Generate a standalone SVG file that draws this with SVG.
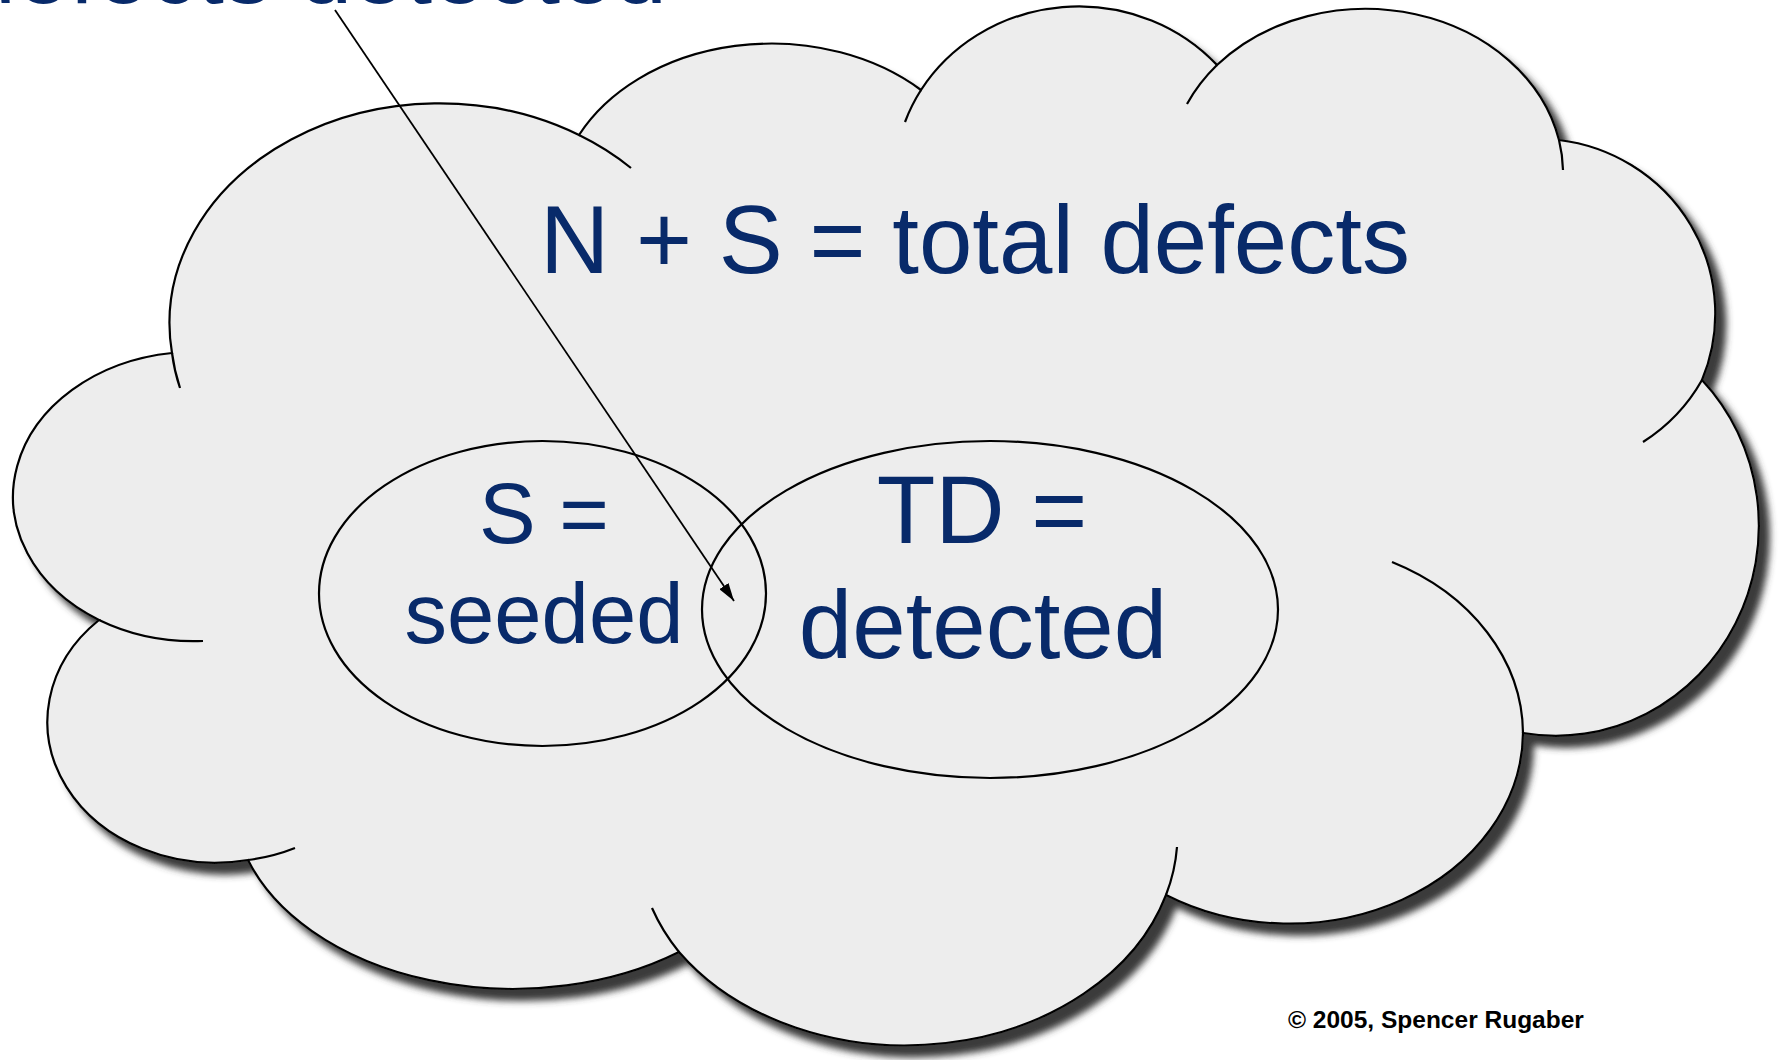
<svg xmlns="http://www.w3.org/2000/svg" width="1788" height="1060" viewBox="0 0 1788 1060">
<style>
.line{fill:none;stroke:#000;stroke-width:2.2}
.blue{fill:#082A6A;font-family:"Liberation Sans",Arial,sans-serif}
</style>
<defs>
<filter id="shadow" x="-5%" y="-5%" width="115%" height="115%">
<feGaussianBlur in="SourceAlpha" stdDeviation="3.5"/>
<feOffset dx="10" dy="11" result="b"/>
<feFlood flood-color="#3a3a3a"/>
<feComposite in2="b" operator="in"/>
<feMerge><feMergeNode/><feMergeNode in="SourceGraphic"/></feMerge>
</filter>
<marker id="arrow" markerUnits="userSpaceOnUse" viewBox="0 0 18 11" refX="18" refY="5.5" markerWidth="18" markerHeight="11" orient="auto">
<path d="M0,0 L18,5.5 L0,11 Z" fill="#000"/>
</marker>
</defs>
<rect width="1788" height="1060" fill="#fff"/>
<text id="top-label" class="blue" x="667" y="3" font-size="96" text-anchor="end">defects detected</text>
<g id="cloud">
<path d="M99,620 A182,145 0 0 1 172,353 A270,220 0 0 1 579,135 A215,165 0 0 1 921,90 A185,175 0 0 1 1217,65 A198,166 0 0 1 1559,140 A178,175 0 0 1 1702,380 A203,210 0 0 1 1523,733 A234,192 0 0 1 1166,895 A272,210 0 0 1 679,952 A280,190 0 0 1 248,860 A168,141 0 0 1 99,620 Z" fill="#EDEDED" stroke="#000" stroke-width="2.2" filter="url(#shadow)"/>
<path class="line" d="M99,620 A182,145 0 0 0 203,641 M172,353 A270,220 0 0 0 180,388 M579,135 A270,220 0 0 1 631,168 M921,90 A185,175 0 0 0 905,122 M1217,65 A198,166 0 0 0 1187,104 M1559,140 A198,166 0 0 1 1563,170 M1702,380 A178,175 0 0 1 1643,442 M1523,733 A234,192 0 0 0 1392,562 M1166,895 A272,210 0 0 0 1177,847 M679,952 A272,210 0 0 1 652,908 M248,860 A168,141 0 0 0 295,848"/>
<text class="blue" x="975" y="273" font-size="96" text-anchor="middle">N + S = total defects</text>
</g>
<g id="seeded">
<ellipse class="line" cx="542.5" cy="593.5" rx="223.5" ry="152.5"/>
<text class="blue" x="544" y="543" font-size="85" text-anchor="middle">S =</text>
<text class="blue" x="544" y="643" font-size="85" text-anchor="middle">seeded</text>
</g>
<g id="detected">
<ellipse class="line" cx="990" cy="609.5" rx="288" ry="168.5"/>
<text class="blue" x="982" y="543" font-size="96" text-anchor="middle">TD =</text>
<text class="blue" x="983" y="658" font-size="96" text-anchor="middle">detected</text>
</g>
<g id="connectors">
<line x1="335" y1="10" x2="734" y2="601" stroke="#000" stroke-width="1.8" marker-end="url(#arrow)"/>
</g>
<text id="copyright" x="1288" y="1028" font-family="'Liberation Sans',Arial,sans-serif" font-weight="bold" font-size="24.5" fill="#000">© 2005, Spencer Rugaber</text>
</svg>
